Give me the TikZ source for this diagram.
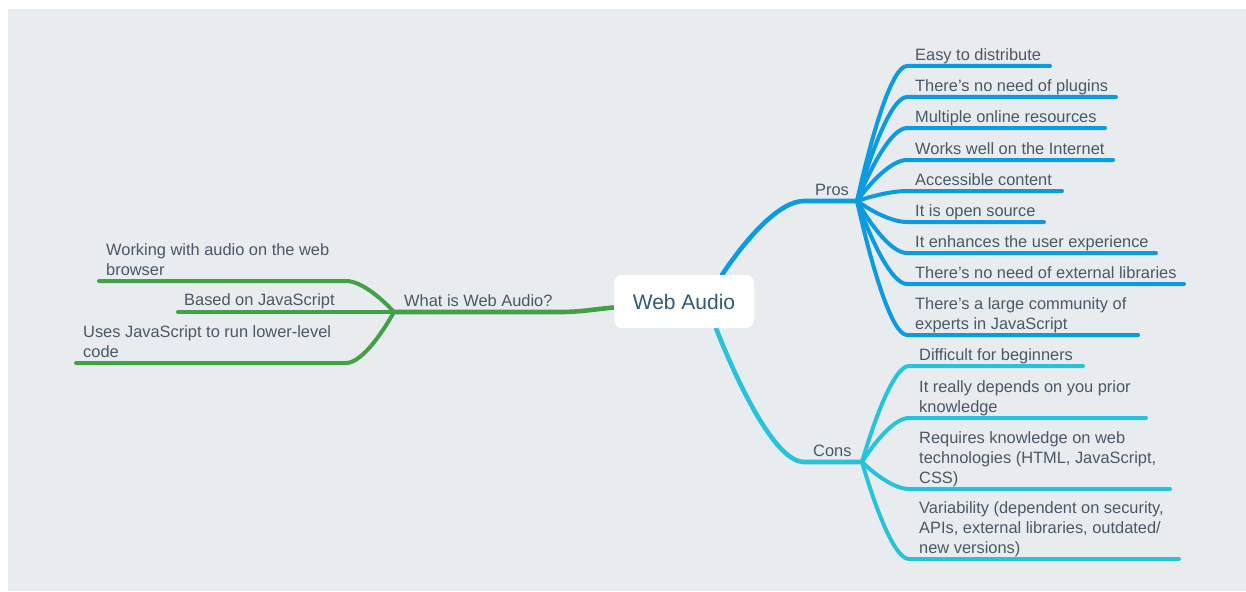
\documentclass[tikz,border=0pt]{standalone}
\usepackage{fontspec}
\setmainfont{Liberation Sans}
\usetikzlibrary{calc,backgrounds}

\definecolor{canvasgray}{HTML}{E8ECEF}
\definecolor{leafgray}{HTML}{4A5866}
\definecolor{roottext}{HTML}{2F5B73}
\definecolor{problue}{HTML}{0B9BE3}
\definecolor{concyan}{HTML}{27C3DB}
\definecolor{whatgreen}{HTML}{44A047}

\tikzset{
  leaf/.style={anchor=south west, inner sep=0pt, text depth=0pt, align=left, text=leafgray, font=\fontsize{16.4}{20}\selectfont},
  twig/.style={line width=4pt, line cap=round, line join=round},
  limb/.style={line width=4.6pt},
}

% curve from a junction to the start of an underline, then along it
\newcommand{\sprout}[4]{%
  \draw[twig,#1] let \p1=(#2), \p2=(#3) in (\p1)
    .. controls ({\x1+0.3*(\x2-\x1)},{\y1+0.5*(\y2-\y1)}) and ({\x2-0.3*(\x2-\x1)},\y2) .. (\p2) -- (#4);}

\begin{document}
\begin{tikzpicture}[x=1pt, y=-1pt]
\useasboundingbox (0,0) rectangle (1246,591);

% central topic
\node[fill=white, rounded corners=8pt, minimum width=140pt, minimum height=53pt, text=roottext, font=\fontsize{21}{24}\selectfont] (root) at (684,301.5) {Web Audio};

% main topics
\node[leaf] (pros) at (815,196) {Pros};
\node[leaf] (cons) at (813,457) {Cons};
\node[leaf] (what) at (404,307) {What is Web Audio?};

\coordinate (prosout) at ([xshift=38pt]root.north);
\coordinate (prosin) at (804,201);
\coordinate (prosj) at (857,201);
\coordinate (consout) at ([xshift=32pt]root.south);
\coordinate (consin) at (804,462);
\coordinate (consj) at (862,462);
\coordinate (whatout) at ([yshift=-6pt]root.west);
\coordinate (whatbend) at (560,312);
\coordinate (whathub) at (394,312);

% pros
\node[leaf] (p1) at (915,61) {Easy to distribute};
\node[leaf] (p2) at (915,92) {There’s no need of plugins};
\node[leaf] (p3) at (915,123) {Multiple online resources};
\node[leaf] (p4) at (915,155) {Works well on the Internet};
\node[leaf] (p5) at (915,186) {Accessible content};
\node[leaf] (p6) at (915,217) {It is open source};
\node[leaf] (p7) at (915,248) {It enhances the user experience};
\node[leaf] (p8) at (915,279) {There’s no need of external libraries};
\node[leaf] (p9) at (915,330) {There’s a large community of\\experts in JavaScript};

\coordinate (ps1) at (907,66);  \coordinate (pe1) at (1050,66);
\coordinate (ps2) at (907,97);  \coordinate (pe2) at (1116,97);
\coordinate (ps3) at (907,128); \coordinate (pe3) at (1105,128);
\coordinate (ps4) at (907,160); \coordinate (pe4) at (1113,160);
\coordinate (ps5) at (907,191); \coordinate (pe5) at (1062,191);
\coordinate (ps6) at (907,222); \coordinate (pe6) at (1044,222);
\coordinate (ps7) at (907,253); \coordinate (pe7) at (1156,253);
\coordinate (ps8) at (907,284); \coordinate (pe8) at (1184,284);
\coordinate (ps9) at (907,335); \coordinate (pe9) at (1138,335);

% cons
\node[leaf] (c1) at (919,361) {Difficult for beginners};
\node[leaf] (c2) at (919,413) {It really depends on you prior\\knowledge};
\node[leaf] (c3) at (919,484) {Requires knowledge on web\\technologies (HTML, JavaScript,\\CSS)};
\node[leaf] (c4) at (919,554) {Variability (dependent on security,\\APIs, external libraries, outdated/\\new versions)};

\coordinate (cs1) at (909,366); \coordinate (ce1) at (1083,366);
\coordinate (cs2) at (909,418); \coordinate (ce2) at (1146,418);
\coordinate (cs3) at (909,489); \coordinate (ce3) at (1170,489);
\coordinate (cs4) at (909,559); \coordinate (ce4) at (1179,559);

% what is web audio
\node[leaf] (w1) at (106,276) {Working with audio on the web\\browser};
\node[leaf] (w2) at (184,306) {Based on JavaScript};
\node[leaf] (w3) at (83,358) {Uses JavaScript to run lower-level\\code};

\coordinate (ws1) at (346,281); \coordinate (we1) at (99,281);
\coordinate (we2) at (178,312);
\coordinate (ws3) at (346,363); \coordinate (we3) at (76,363);

\begin{scope}[on background layer]
\fill[white] (0,0) rectangle (1246,591);
\fill[canvasgray] (8,9) rectangle (1246,591);
\sprout{problue,limb}{prosout}{prosin}{prosj}
\sprout{concyan,limb}{consout}{consin}{consj}
\draw[twig,limb,whatgreen] (whathub) -- (whatbend) to[out=0,in=185] (whatout);

\sprout{problue}{prosj}{ps1}{pe1}
\sprout{problue}{prosj}{ps2}{pe2}
\sprout{problue}{prosj}{ps3}{pe3}
\sprout{problue}{prosj}{ps4}{pe4}
\sprout{problue}{prosj}{ps5}{pe5}
\sprout{problue}{prosj}{ps6}{pe6}
\sprout{problue}{prosj}{ps7}{pe7}
\sprout{problue}{prosj}{ps8}{pe8}
\sprout{problue}{prosj}{ps9}{pe9}

\sprout{concyan}{consj}{cs1}{ce1}
\sprout{concyan}{consj}{cs2}{ce2}
\sprout{concyan}{consj}{cs3}{ce3}
\sprout{concyan}{consj}{cs4}{ce4}

\sprout{whatgreen}{whathub}{ws1}{we1}
\draw[twig,whatgreen] (whathub) -- (we2);
\sprout{whatgreen}{whathub}{ws3}{we3}
\end{scope}
\end{tikzpicture}
\end{document}
